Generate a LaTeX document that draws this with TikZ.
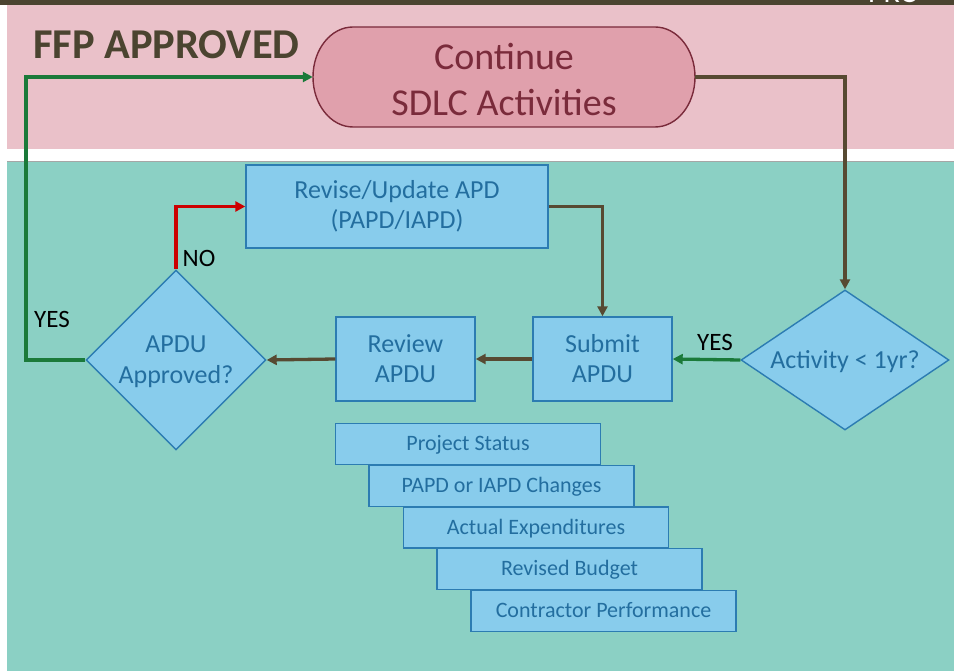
\documentclass[tikz,border=0pt]{standalone}
\usepackage{fontspec}
\setmainfont{Carlito}
\usetikzlibrary{arrows.meta,shapes.geometric}

\definecolor{barDark}{HTML}{4B4430}
\definecolor{bandPink}{HTML}{EAC1C9}
\definecolor{bandTeal}{HTML}{8BD0C4}
\definecolor{boxFill}{HTML}{88CCEC}
\definecolor{boxLine}{HTML}{2C7CB2}
\definecolor{boxText}{HTML}{236E9F}
\definecolor{termFill}{HTML}{E0A0AC}
\definecolor{termLine}{HTML}{7A2B3B}
\definecolor{flowBrown}{HTML}{574A32}
\definecolor{flowGreen}{HTML}{1B7A3A}
\definecolor{flowRed}{HTML}{CC0000}

\begin{document}
\begin{tikzpicture}[x=1pt,y=-1pt,
  procbox/.style={draw=boxLine, fill=boxFill, line width=1.4pt, text=boxText,
    font=\fontsize{26}{30}\selectfont, align=center, inner sep=0pt},
  listbox/.style={procbox, font=\fontsize{22}{26}\selectfont,
    minimum width=265pt, minimum height=41pt, text depth=2pt},
  decision/.style={diamond, draw=boxLine, fill=boxFill, line width=1.4pt, inner sep=0pt},
  dectext/.style={text=boxText, font=\fontsize{26}{31}\selectfont, align=center, inner sep=0pt},
  flow/.style={line width=3.3pt, -{Triangle[length=10pt,width=10pt]}},
  answer/.style={text=black, font=\fontsize{25}{25}\selectfont, inner sep=0pt}
]
\useasboundingbox (0,0) rectangle (954,671);

% background bands
\fill[white] (0,0) rectangle (954,671);
\fill[barDark] (0,0) rectangle (954,5);
\begin{scope}
  \clip (0,0) rectangle (954,5);
  \node[white, font=\fontsize{30}{30}\selectfont, anchor=base west, inner sep=0pt] (pro) at (868,3) {PRO};
\end{scope}
\fill[bandPink] (7,5) rectangle (954,149);
\fill[bandTeal] (7,161) rectangle (954,671);
\draw[black!35, line width=0.8pt] (7,161) -- (954,161);

% heading
\node[anchor=base west, inner sep=0pt, text=barDark, font=\bfseries\fontsize{42.5}{42.5}\selectfont] (ffp) at (33,59) {FFP APPROVED};

% terminal: continue SDLC activities
\node[minimum width=382pt, minimum height=100pt, inner sep=0pt] (cont) at (504,77) {};
\draw[termLine, fill=termFill, line width=1.4pt]
  (353,27) -- (655,27) .. controls (677.1,27) and (695,49.4) .. (695,77)
  .. controls (695,104.6) and (677.1,127) .. (655,127) -- (353,127)
  .. controls (330.9,127) and (313,104.6) .. (313,77)
  .. controls (313,49.4) and (330.9,27) .. (353,27) -- cycle;
\node[text=termLine, font=\fontsize{38}{46}\selectfont, align=center, inner sep=0pt] (contT) at (504,80) {Continue\\SDLC Activities};

% process boxes
\node[procbox, minimum width=302pt, minimum height=83pt] (rev) at (397,206.5) {Revise/Update APD\\(PAPD/IAPD)};
\node[procbox, minimum width=139pt, minimum height=84pt] (sub) at (602.5,359) {Submit\\APDU};
\node[procbox, minimum width=139pt, minimum height=84pt] (revw) at (405.5,359) {Review\\APDU};

% decisions
\node[decision, minimum width=208pt, minimum height=140pt] (act) at (845,360) {};
\node[dectext] (actT) at (845,362) {Activity < 1yr?};
\node[decision, minimum width=180pt, minimum height=180pt] (apdu) at (176,360) {};
\node[dectext] (apduT) at (176,362) {APDU\\Approved?};

% APDU contents
\node[listbox] (l1) at (468,444) {Project Status};
\node[listbox] (l2) at (501.5,486) {PAPD or IAPD Changes};
\node[listbox] (l3) at (536,527.5) {Actual Expenditures};
\node[listbox] (l4) at (569.5,569) {Revised Budget};
\node[listbox] (l5) at (603.5,611) {Contractor Performance};

% connectors
\coordinate (yesRail) at (26,77);
\draw[flow, flowGreen] (apdu.west) -| (yesRail) -- (cont.west);
\draw[flow, flowBrown] (cont.east) -| (act.north);
\draw[flow, flowGreen] (act.west) -- (sub.east);
\draw[flow, flowBrown] (sub.west) -- (revw.east);
\draw[flow, flowBrown] (revw.west) -- (apdu.east);
\draw[flow, flowRed] (apdu.north) |- (rev.west);
\draw[flow, flowBrown] (rev.east) -| (sub.north);

% answers
\node[answer] (yesL) at (52,319) {YES};
\node[answer] (noL) at (199,258) {NO};
\node[answer] (yesR) at (715,342) {YES};
\end{tikzpicture}
\end{document}
